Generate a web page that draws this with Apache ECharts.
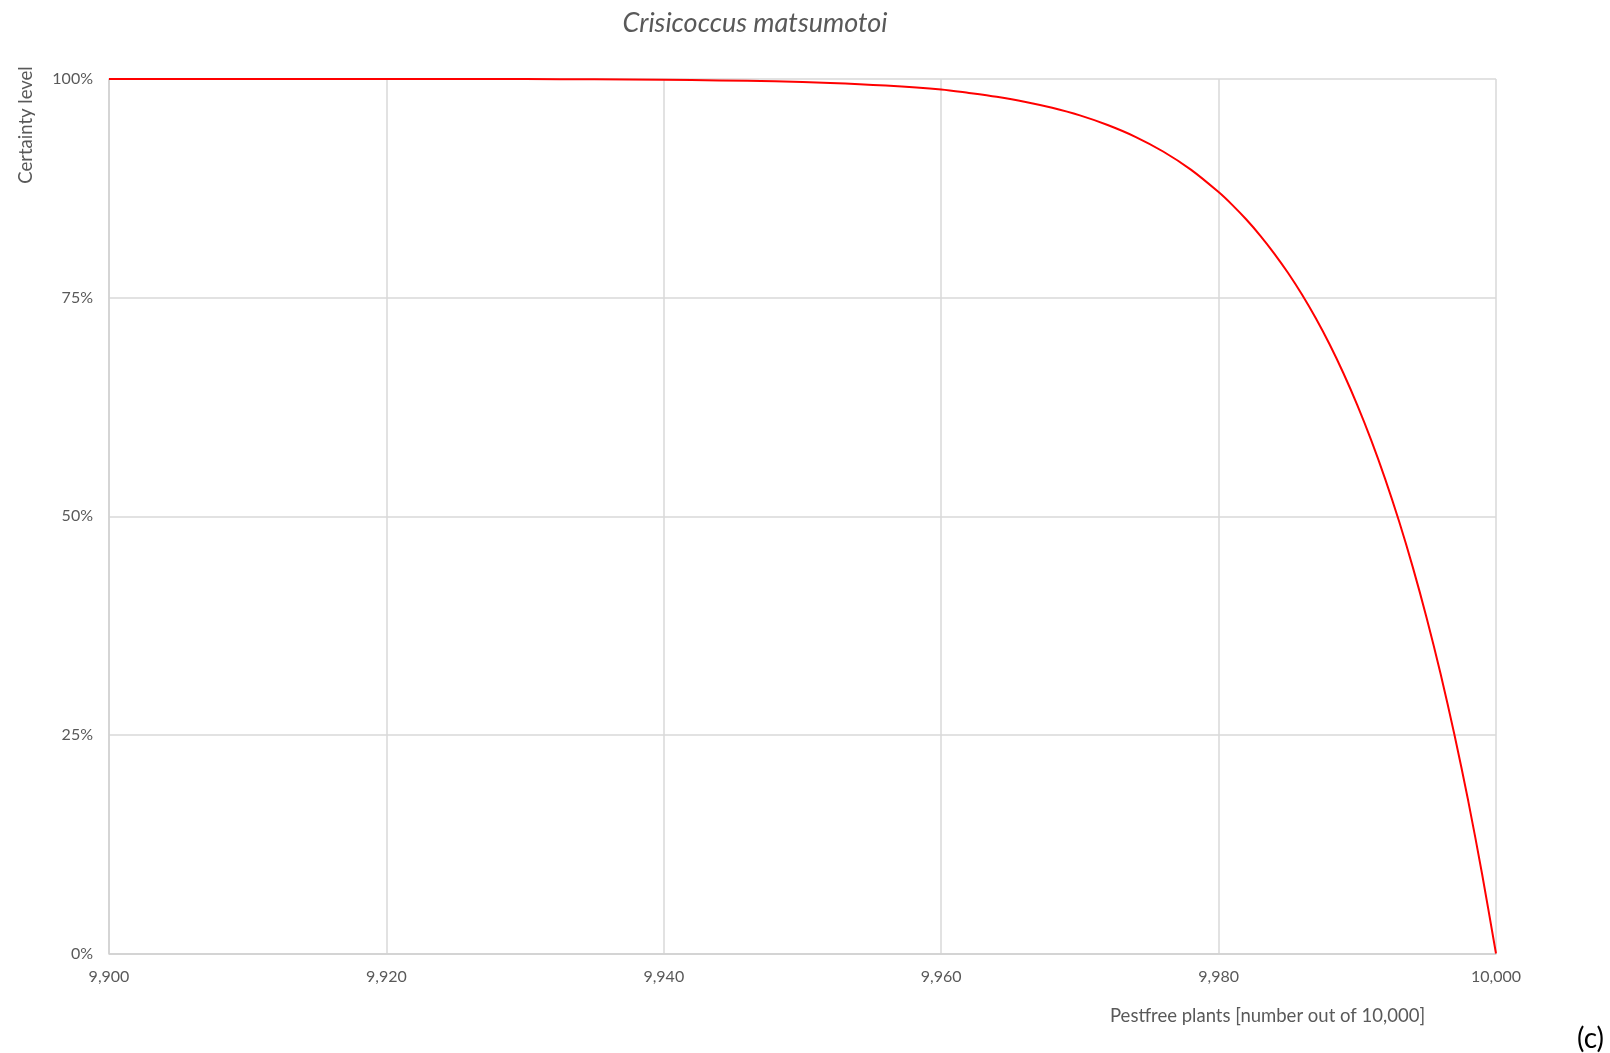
<!DOCTYPE html>
<html>
<head>
<meta charset="utf-8">
<script src="https://cdn.jsdelivr.net/npm/echarts@6/dist/echarts.min.js"></script>
<style>
  html, body { margin: 0; padding: 0; background: #ffffff; }
  #chart { width: 1610px; height: 1053px; }
</style>
</head>
<body>
<div id="chart"></div>
<script>
const chartTitle = 'Crisicoccus matsumotoi';
const xAxisTitle = 'Pestfree plants [number out of 10,000]';
const yAxisTitle = 'Certainty level';
const panelLabel = '(c)';

const pestfreePlants = [9900, 9920, 9930, 9935, 9940, 9944, 9948, 9952, 9956, 9960, 9962, 9964, 9966, 9968, 9970, 9972, 9974, 9976, 9978, 9980, 9981, 9982, 9983, 9984, 9985, 9986, 9987, 9988, 9989, 9990, 9991, 9992, 9993, 9994, 9995, 9996, 9997, 9998, 9999, 10000];
const certaintyLevel = [100, 100, 99.99, 99.96, 99.91, 99.84, 99.73, 99.55, 99.25, 98.8, 98.4, 97.96, 97.41, 96.71, 95.84, 94.74, 93.39, 91.71, 89.64, 87.07, 85.58, 83.93, 82.1, 80.07, 77.84, 75.38, 72.66, 69.66, 66.35, 62.71, 58.71, 54.31, 49.48, 44.18, 38.37, 32.01, 25.04, 17.43, 9.06, 0];

const xMin = 9900, xMax = 10000, xInterval = 20;
const yMin = 0, yMax = 100, yInterval = 25;

const FONT = 'Lato, "Open Sans", sans-serif';
const GREY = '#595959';

const chart = echarts.init(document.getElementById('chart'), null, { renderer: 'canvas' });

const seriesData = pestfreePlants.map((x, i) => [x, certaintyLevel[i]]);

chart.setOption({
  animation: false,
  backgroundColor: '#ffffff',
  title: {
    text: chartTitle,
    left: 750,
    top: 5,
    textAlign: 'center',
    textStyle: { fontFamily: FONT, fontStyle: 'italic', fontWeight: 'normal', fontSize: 27, color: GREY }
  },
  grid: { left: 109, right: 114, top: 79, bottom: 99.5, containLabel: false },
  xAxis: {
    type: 'value',
    min: xMin, max: xMax, interval: xInterval,
    axisLine: { show: true, lineStyle: { color: '#d0d0d0', width: 1.5 } },
    axisTick: { show: false },
    axisLabel: {
      margin: 15,
      color: GREY, fontFamily: FONT, fontSize: 16,
      formatter: v => v.toLocaleString('en-US')
    },
    splitLine: { show: true, lineStyle: { color: '#d9d9d9', width: 1.5 } }
  },
  yAxis: {
    type: 'value',
    min: yMin, max: yMax, interval: yInterval,
    axisLine: { show: true, lineStyle: { color: '#d0d0d0', width: 1.5 } },
    axisTick: { show: false },
    axisLabel: {
      margin: 16,
      color: GREY, fontFamily: FONT, fontSize: 16,
      formatter: '{value}%'
    },
    splitLine: { show: true, lineStyle: { color: '#d9d9d9', width: 1.5 } }
  },
  series: [{
    type: 'line',
    data: seriesData,
    smooth: 0.3,
    showSymbol: false,
    lineStyle: { color: '#ff0000', width: 2 },
    z: 5
  }],
  graphic: [
    {
      type: 'text',
      left: 1110, top: 1007,
      style: { text: xAxisTitle, fill: GREY, font: '18.5px ' + FONT }
    },
    {
      type: 'text',
      x: 26, y: 125,
      rotation: Math.PI / 2,
      style: { text: yAxisTitle, fill: GREY, font: '18.5px ' + FONT, align: 'center', verticalAlign: 'middle' }
    },
    {
      type: 'text',
      right: 6, top: 1025,
      style: { text: panelLabel, fill: '#000000', font: '28px ' + FONT }
    }
  ]
});
</script>
</body>
</html>
